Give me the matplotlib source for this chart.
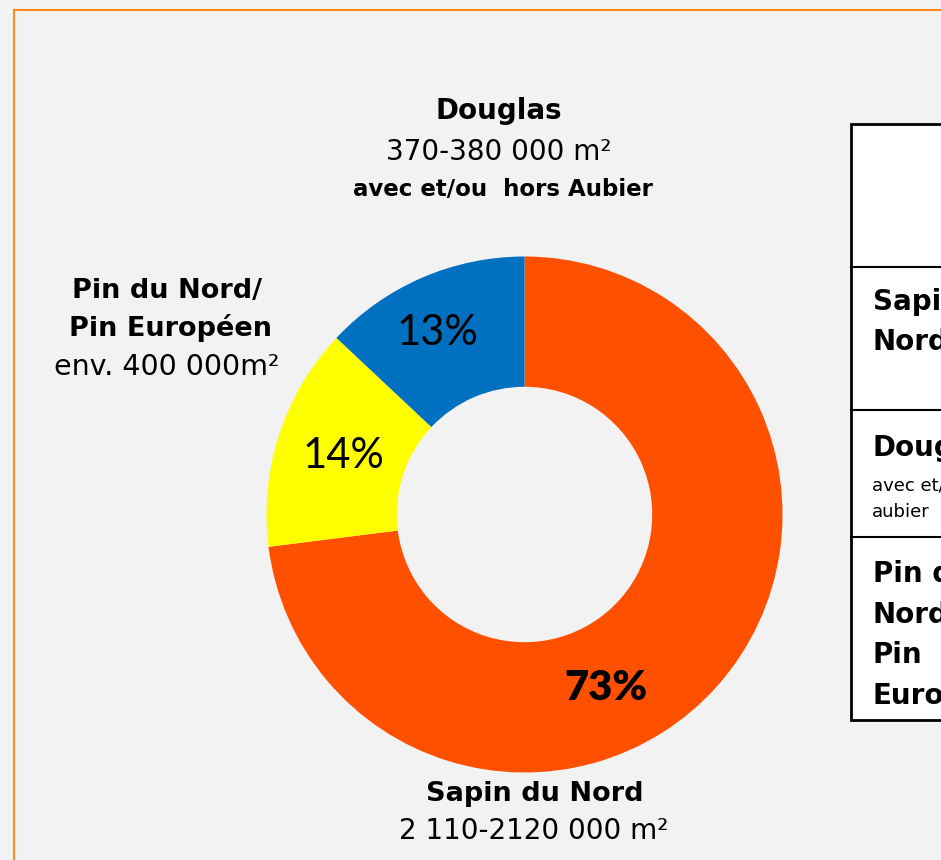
import matplotlib
matplotlib.use("Agg")
import matplotlib.pyplot as plt
from matplotlib.patches import Rectangle
from matplotlib.lines import Line2D

# ---- data ----
species = ["Sapin du Nord", "Pin du Nord/ Pin Européen", "Douglas"]
shares = [73, 14, 13]
pct_labels = ["73%", "14%", "13%"]
colors = ["#FF5000", "#FFFF00", "#0070C0"]
areas = ["2 110-2120 000 m²", "env. 400 000m²", "370-380 000 m²"]
table_rows = [["Sapin du", "Nord"], ["Douglas"], ["Pin du", "Nord/", "Pin", "Européen"]]
table_sub = ["avec et/ou hors", "aubier"]

W, H = 941, 860
fig = plt.figure(figsize=(W / 100, H / 100), dpi=100)
fig.patch.set_facecolor("#F2F2F2")
ax = fig.add_axes([0, 0, 1, 1])
ax.set_facecolor("#F2F2F2")

def Y(py):
    return H - py

cx, cy, R = 524.5, Y(514.5), 258
wedges, _ = ax.pie(shares, colors=colors, startangle=90, counterclock=False,
                   radius=R, center=(cx, cy),
                   wedgeprops=dict(width=R * 0.505, linewidth=0))
ax.set_xlim(0, W)
ax.set_ylim(0, H)
ax.set_aspect("equal")
ax.axis("off")

# percentage labels
font_pct = "Lato"
ax.text(606, Y(688), pct_labels[0], fontsize=30, fontweight="heavy", ha="center", va="center", family=font_pct)
ax.text(343, Y(456), pct_labels[1], fontsize=30, ha="center", va="center", family=font_pct)
ax.text(437, Y(333), pct_labels[2], fontsize=30, ha="center", va="center", family=font_pct)

lab = "DejaVu Sans"
# Douglas
ax.text(499, Y(111), "Douglas", fontsize=20, fontweight="bold", ha="center", va="center", family=lab)
ax.text(499, Y(152), areas[2], fontsize=20, ha="center", va="center", family=lab)
ax.text(503, Y(190), "avec et/ou  hors Aubier", fontsize=16.5, fontweight="bold", ha="center", va="center", family=lab)
# Pin
ax.text(167, Y(291), "Pin du Nord/", fontsize=19.5, fontweight="bold", ha="center", va="center", family=lab)
ax.text(171, Y(328), "Pin Européen", fontsize=19.5, fontweight="bold", ha="center", va="center", family=lab)
ax.text(167, Y(367), areas[1], fontsize=20.5, ha="center", va="center", family=lab)
# Sapin
ax.text(535, Y(794), species[0], fontsize=19.5, fontweight="bold", ha="center", va="center", family=lab)
ax.text(534, Y(831), areas[0], fontsize=20, ha="center", va="center", family=lab)

# orange frame
ax.add_line(Line2D([14, 14], [Y(10), 0], color="#FF8C1A", lw=1.5))
ax.add_line(Line2D([14, W], [Y(10), Y(10)], color="#FF8C1A", lw=1.5))

# table
tx = 851
row_edges = [124, 267, 410, 537, 720]
ax.add_patch(Rectangle((tx, Y(row_edges[-1])), 200, row_edges[-1] - row_edges[0],
                       facecolor="white", edgecolor="black", lw=2, clip_on=False))
for e in row_edges[1:-1]:
    ax.add_line(Line2D([tx, W + 10], [Y(e), Y(e)], color="black", lw=1.5))
tf = "DejaVu Sans"
row_first_y = [299, 445, 571]
for lines, y0 in zip(table_rows, row_first_y):
    for i, s in enumerate(lines):
        ax.text(873, Y(y0 + i * 40.5), s, fontsize=20, fontweight="bold", ha="left",
                va="center_baseline", family=tf)
for i, s in enumerate(table_sub):
    ax.text(872, Y(484 + i * 26), s, fontsize=13, ha="left", va="center_baseline", family=tf)

fig.savefig("out.png", dpi=100, facecolor=fig.get_facecolor())
